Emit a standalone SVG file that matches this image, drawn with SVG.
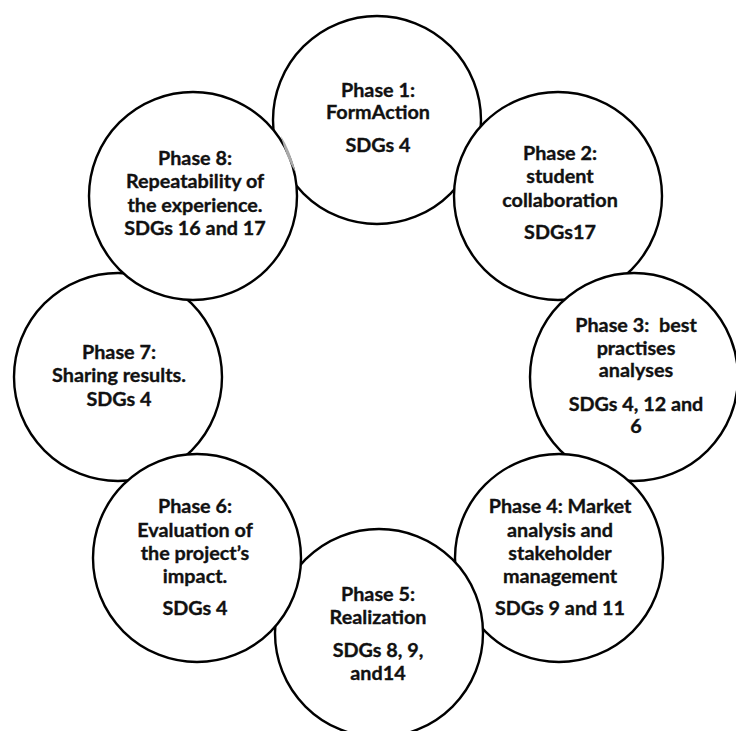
<svg xmlns="http://www.w3.org/2000/svg" width="736" height="731" viewBox="0 0 736 731">
<style>
.c{fill:#fff;stroke:#000;stroke-width:2.4}
.t{font-family:Lato,"Liberation Sans",sans-serif;font-weight:bold;font-size:19.8px;text-anchor:middle;fill:#111;stroke:#111;stroke-width:0.35}
</style>
<rect width="736" height="731" fill="#fff"/>
<g id="phase1"><circle class="c" cx="377" cy="120" r="104"/>
<text class="t"><tspan x="378" y="96.7">Phase 1:</tspan><tspan x="378" y="119.3">FormAction</tspan><tspan x="378" y="151.7">SDGs 4</tspan></text></g>
<g id="phase7"><circle class="c" cx="118" cy="377" r="104"/>
<text class="t"><tspan x="119" y="359">Phase 7:</tspan><tspan x="119" y="381.7">Sharing results.</tspan><tspan x="119" y="405.7">SDGs 4</tspan></text></g>
<g id="phase2"><circle class="c" cx="558" cy="196" r="104"/>
<text class="t"><tspan x="560" y="160">Phase 2:</tspan><tspan x="560" y="183.3">student</tspan><tspan x="560" y="206.7">collaboration</tspan><tspan x="560" y="239.3">SDGs17</tspan></text></g>
<g id="phase3"><circle class="c" cx="634" cy="377" r="104"/>
<text class="t"><tspan x="636" y="331.7" xml:space="preserve">Phase 3:  best</tspan><tspan x="636" y="355">practises</tspan><tspan x="636" y="377.3">analyses</tspan><tspan x="636" y="410.7">SDGs 4, 12 and</tspan><tspan x="636" y="433.3">6</tspan></text></g>
<g id="phase4"><circle class="c" cx="559" cy="558" r="104"/>
<text class="t"><tspan x="560" y="512.7">Phase 4: Market</tspan><tspan x="560" y="536.7">analysis and</tspan><tspan x="560" y="560">stakeholder</tspan><tspan x="560" y="583.3">management</tspan><tspan x="560" y="615">SDGs 9 and 11</tspan></text></g>
<g id="phase5"><circle class="c" cx="379" cy="633" r="104"/>
<text class="t"><tspan x="378" y="600.7">Phase 5:</tspan><tspan x="378" y="624">Realization</tspan><tspan x="378" y="656.7">SDGs 8, 9,</tspan><tspan x="378" y="680">and14</tspan></text></g>
<g id="phase6"><circle class="c" cx="197" cy="558" r="104"/>
<text class="t"><tspan x="195" y="512.7">Phase 6:</tspan><tspan x="195" y="536.7">Evaluation of</tspan><tspan x="195" y="560">the project’s</tspan><tspan x="195" y="583.3">impact.</tspan><tspan x="195" y="615">SDGs 4</tspan></text></g>
<g id="phase8"><circle class="c" cx="193" cy="196" r="104"/>
<path d="M281,136 Q290,150 296,173 Q286,158 281,136 Z" fill="#aaa"/>
<text class="t"><tspan x="195" y="165">Phase 8:</tspan><tspan x="195" y="188.3">Repeatability of</tspan><tspan x="195" y="211.7">the experience.</tspan><tspan x="195" y="235">SDGs 16 and 17</tspan></text></g>
</svg>
